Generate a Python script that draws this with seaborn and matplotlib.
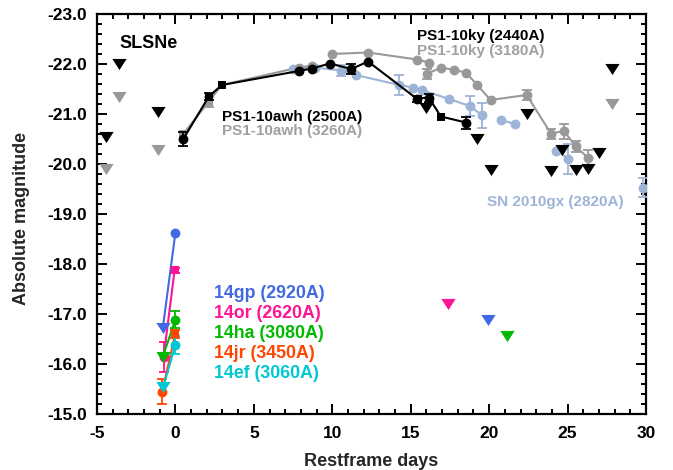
import numpy as np
import pandas as pd
import matplotlib
matplotlib.use("Agg")
import matplotlib.pyplot as plt
from matplotlib.path import Path
import seaborn as sns
from matplotlib.ticker import MultipleLocator, FormatStrFormatter

# ---------------- PS1-10awh / PS1-10ky, UV band (black) ----------------
ps1_uv_day = [0.5, 2.13, 2.96, 7.86, 8.71, 9.84, 11.22, 12.28, 15.37, 16.15, 16.92, 18.52]
ps1_uv_mag = [-20.5, -21.35, -21.58, -21.86, -21.91, -22.01, -21.9, -22.05, -21.31, -21.33, -20.95, -20.83]
ps1_uv_err = [0.15, 0.08, 0.0, 0.0, 0.0, 0.0, 0.1, 0.0, 0.06, 0.08, 0.0, 0.12]
ps1_uv_mrk = ["o", "s", "s", "o", "o", "o", "o", "o", "o", "o", "s", "o"]

ps1_uv_lim_day = [-4.41, -3.6, -1.12, 16.0, 19.24, 20.09, 22.39, 23.94, 24.62, 25.52, 26.28, 27.02, 27.85]
ps1_uv_lim_mag = [-20.55, -22.0, -21.05, -21.13, -20.51, -19.88, -21.0, -19.85, -20.29, -19.88, -19.91, -20.23, -21.91]

# ---------------- PS1-10awh, near-UV band (grey) ----------------
awh_nuv_day = [0.5, 2.13, 2.96, 7.86, 8.71]
awh_nuv_mag = [-20.6, -21.25, -21.58, -21.93, -21.97]
awh_nuv_err = [0.0, 0.1, 0.0, 0.0, 0.0]

# ---------------- PS1-10ky, near-UV band (grey) ----------------
ky_nuv_day = [9.95, 12.28, 15.41, 16.15, 16.07, 16.96, 17.77, 18.52, 19.24, 20.09, 22.39, 23.94, 24.77, 25.52, 26.28]
ky_nuv_mag = [-22.2, -22.23, -22.09, -22.03, -21.81, -21.93, -21.88, -21.83, -21.58, -21.28, -21.38, -20.61, -20.66, -20.35, -20.13]
ky_nuv_err = [0.0, 0.0, 0.0, 0.0, 0.1, 0.0, 0.0, 0.0, 0.0, 0.0, 0.1, 0.1, 0.15, 0.1, 0.15]

ps1_nuv_lim_day = [-4.41, -3.6, -1.12, 27.85]
ps1_nuv_lim_mag = [-19.91, -21.35, -20.28, -21.2]

# ---------------- SN 2010gx (light blue) ----------------
gx_day = [7.5, 8.88, 10.58, 11.5, 14.26, 15.15, 15.7, 17.45, 18.77, 19.52, 20.73, 21.64, 24.26, 25.05, 29.8]
gx_mag = [-21.91, -21.93, -21.87, -21.78, -21.58, -21.53, -21.48, -21.3, -21.16, -20.98, -20.88, -20.8, -20.27, -20.11, -19.53]
gx_err = [0.0, 0.0, 0.1, 0.0, 0.2, 0.0, 0.0, 0.0, 0.2, 0.25, 0.0, 0.0, 0.0, 0.3, 0.2]
gx_seg = [0, 0, 0, 0, 0, 0, 0, 0, 0, 0, 1, 1, 2, 2, 3]

# ---------------- iPTF early UV detections ----------------
gp_day, gp_mag, gp_err = [0.0], [-18.63], [0.0]
gp_lim_day, gp_lim_mag = [-0.8, 19.94], [-16.73, -16.88]

or_day, or_mag, or_err = [-0.75, -0.05], [-16.15, -17.88], [0.3, 0.05]
or_lim_day, or_lim_mag = [17.38], [-17.21]

ha_day, ha_mag, ha_err = [0.0], [-16.89], [0.17]
ha_lim_day, ha_lim_mag = [-0.8, 21.17], [-16.15, -16.56]

jr_day, jr_mag, jr_err = [-0.84, 0.0], [-15.45, -16.61], [0.25, 0.08]
jr_lim_day, jr_lim_mag = [], []

ef_day, ef_mag, ef_err = [0.0], [-16.38], [0.18]
ef_lim_day, ef_lim_mag = [-0.77], [-15.55]

# colours
BLACK = "#000000"
GREY = "#999999"
GREY_TXT = "#a0a0a0"
LBLUE = "#9db4d6"
C_GP = "#4169e1"
C_OR = "#ff1493"
C_HA = "#00b900"
C_JR = "#ff4500"
C_EF = "#00c8d2"

sns.set_theme(style="ticks")
plt.rcParams["font.family"] = ["Liberation Sans", "DejaVu Sans"]
plt.rcParams["font.weight"] = "bold"
plt.rcParams["axes.unicode_minus"] = False

fig = plt.figure(figsize=(6.73, 4.70), dpi=100)
ax = fig.add_axes([97 / 673, 1 - 414 / 470, (646 - 97) / 673, 400 / 470])

# flattened down-pointing triangle for upper limits
LIMIT_MARKER = Path([(-1.0, 0.78), (1.0, 0.78), (0.0, -0.78), (-1.0, 0.78)],
                    [Path.MOVETO, Path.LINETO, Path.LINETO, Path.CLOSEPOLY])

POINT_S = 50
LIM_S = 105


def draw_line(day, mag, color, seg=None, z=2):
    if len(day) < 2:
        return
    df = pd.DataFrame({"day": day, "mag": mag,
                       "seg": seg if seg is not None else [0] * len(day)})
    sns.lineplot(data=df, x="day", y="mag", units="seg", estimator=None,
                 sort=False, color=color, lw=1.5, ax=ax, zorder=z)


def draw_points(day, mag, err, color, markers=None, z=3):
    if len(day) == 0:
        return
    markers = markers if markers is not None else ["o"] * len(day)
    e = np.asarray(err, dtype=float)
    d = np.asarray(day, dtype=float)
    m = np.asarray(mag, dtype=float)
    has = e > 0
    if has.any():
        ax.errorbar(d[has], m[has], yerr=e[has], fmt="none", ecolor=color,
                    elinewidth=1.3, capsize=3.5, capthick=1.3, zorder=z)
    df = pd.DataFrame({"day": d, "mag": m, "mk": markers})
    for mk in df["mk"].unique():
        sub = df[df["mk"] == mk]
        sns.scatterplot(data=sub, x="day", y="mag", color=color, marker=mk,
                        s=POINT_S if mk == "o" else POINT_S * 0.8,
                        linewidth=0, ax=ax, zorder=z + 0.1)


def draw_limits(day, mag, color, z=3):
    if len(day) == 0:
        return
    df = pd.DataFrame({"day": day, "mag": mag})
    sns.scatterplot(data=df, x="day", y="mag", color=color, marker=LIMIT_MARKER,
                    s=LIM_S, linewidth=0, ax=ax, zorder=z + 0.2)


# SN 2010gx
draw_line(gx_day, gx_mag, LBLUE, seg=gx_seg, z=2)
draw_points(gx_day, gx_mag, gx_err, LBLUE, z=3)

# grey near-UV curves
draw_line(awh_nuv_day, awh_nuv_mag, GREY, z=2)
draw_points(awh_nuv_day, awh_nuv_mag, awh_nuv_err, GREY,
            markers=["s", "s", "s", "o", "o"], z=3)
draw_line(ky_nuv_day, ky_nuv_mag, GREY, z=2)
draw_points(ky_nuv_day, ky_nuv_mag, ky_nuv_err, GREY, z=3)
draw_limits(ps1_nuv_lim_day, ps1_nuv_lim_mag, GREY, z=3)

# black UV curve
draw_line(ps1_uv_day, ps1_uv_mag, BLACK, z=4)
draw_points(ps1_uv_day, ps1_uv_mag, ps1_uv_err, BLACK, markers=ps1_uv_mrk, z=5)
draw_limits(ps1_uv_lim_day, ps1_uv_lim_mag, BLACK, z=5)

# iPTF objects: line from the pre-peak epoch to the peak point
for dd, mm, ee, ld, lm, col, mks in [
    (gp_day, gp_mag, gp_err, gp_lim_day, gp_lim_mag, C_GP, ["o"]),
    (or_day, or_mag, or_err, or_lim_day, or_lim_mag, C_OR, ["o", "s"]),
    (ha_day, ha_mag, ha_err, ha_lim_day, ha_lim_mag, C_HA, ["o"]),
    (jr_day, jr_mag, jr_err, jr_lim_day, jr_lim_mag, C_JR, ["o", "s"]),
    (ef_day, ef_mag, ef_err, ef_lim_day, ef_lim_mag, C_EF, ["o"]),
]:
    early_d = [d for d in ld if d < 0] + list(dd)
    early_m = [m for d, m in zip(ld, lm) if d < 0] + list(mm)
    draw_line(early_d, early_m, col, z=6)
    draw_points(dd, mm, ee, col, markers=mks, z=6)
    draw_limits(ld, lm, col, z=6)

# axes
ax.set_xlim(-5, 30)
ax.set_ylim(-15, -23)
ax.xaxis.set_major_locator(MultipleLocator(5))
ax.xaxis.set_minor_locator(MultipleLocator(1))
ax.yaxis.set_major_locator(MultipleLocator(1))
ax.yaxis.set_minor_locator(MultipleLocator(0.2))
ax.yaxis.set_major_formatter(FormatStrFormatter("%.1f"))
ax.tick_params(which="both", direction="in", top=True, right=True,
               colors="black", labelsize=12.5, width=1.4)
ax.tick_params(which="major", length=7)
ax.tick_params(which="minor", length=3.5)
ax.tick_params(axis="x", which="major", pad=9)
ax.tick_params(axis="y", which="major", pad=7)
for lab in ax.get_xticklabels() + ax.get_yticklabels():
    lab.set_fontweight("bold")
for sp in ax.spines.values():
    sp.set_linewidth(1.6)
    sp.set_color("black")

ax.set_xlabel("Restframe days", fontsize=13, fontweight="bold")
ax.xaxis.label.set_verticalalignment("baseline")
ax.xaxis.set_label_coords(0.5, (414 - 466) / 400)
ax.set_ylabel("Absolute magnitude", fontsize=13, fontweight="bold")
ax.yaxis.label.set_verticalalignment("center")
ax.yaxis.set_label_coords((22 - 97) / 549, 0.49)

# annotations
small = dict(fontsize=11, fontweight="bold", va="baseline", ha="left")
big = dict(fontsize=12.8, fontweight="bold", va="baseline", ha="left")
ax.text(-3.56, -22.32, "SLSNe", color=BLACK, fontsize=13,
        fontweight="bold", va="baseline", ha="left")
ax.text(2.95, -20.87, "PS1-10awh (2500A)", color=BLACK, **small)
ax.text(2.95, -20.57, "PS1-10awh (3260A)", color=GREY_TXT, **small)
ax.text(15.39, -22.48, "PS1-10ky (2440A)", color=BLACK, **small)
ax.text(15.39, -22.17, "PS1-10ky (3180A)", color=GREY_TXT, **small)
ax.text(19.85, -19.16, "SN 2010gx (2820A)", color=LBLUE, **small)
ax.text(2.43, -17.33, "14gp (2920A)", color=C_GP, **big)
ax.text(2.43, -16.93, "14or (2620A)", color=C_OR, **big)
ax.text(2.43, -16.53, "14ha (3080A)", color=C_HA, **big)
ax.text(2.43, -16.13, "14jr (3450A)", color=C_JR, **big)
ax.text(2.43, -15.73, "14ef (3060A)", color=C_EF, **big)

fig.savefig("out.png", dpi=100)
